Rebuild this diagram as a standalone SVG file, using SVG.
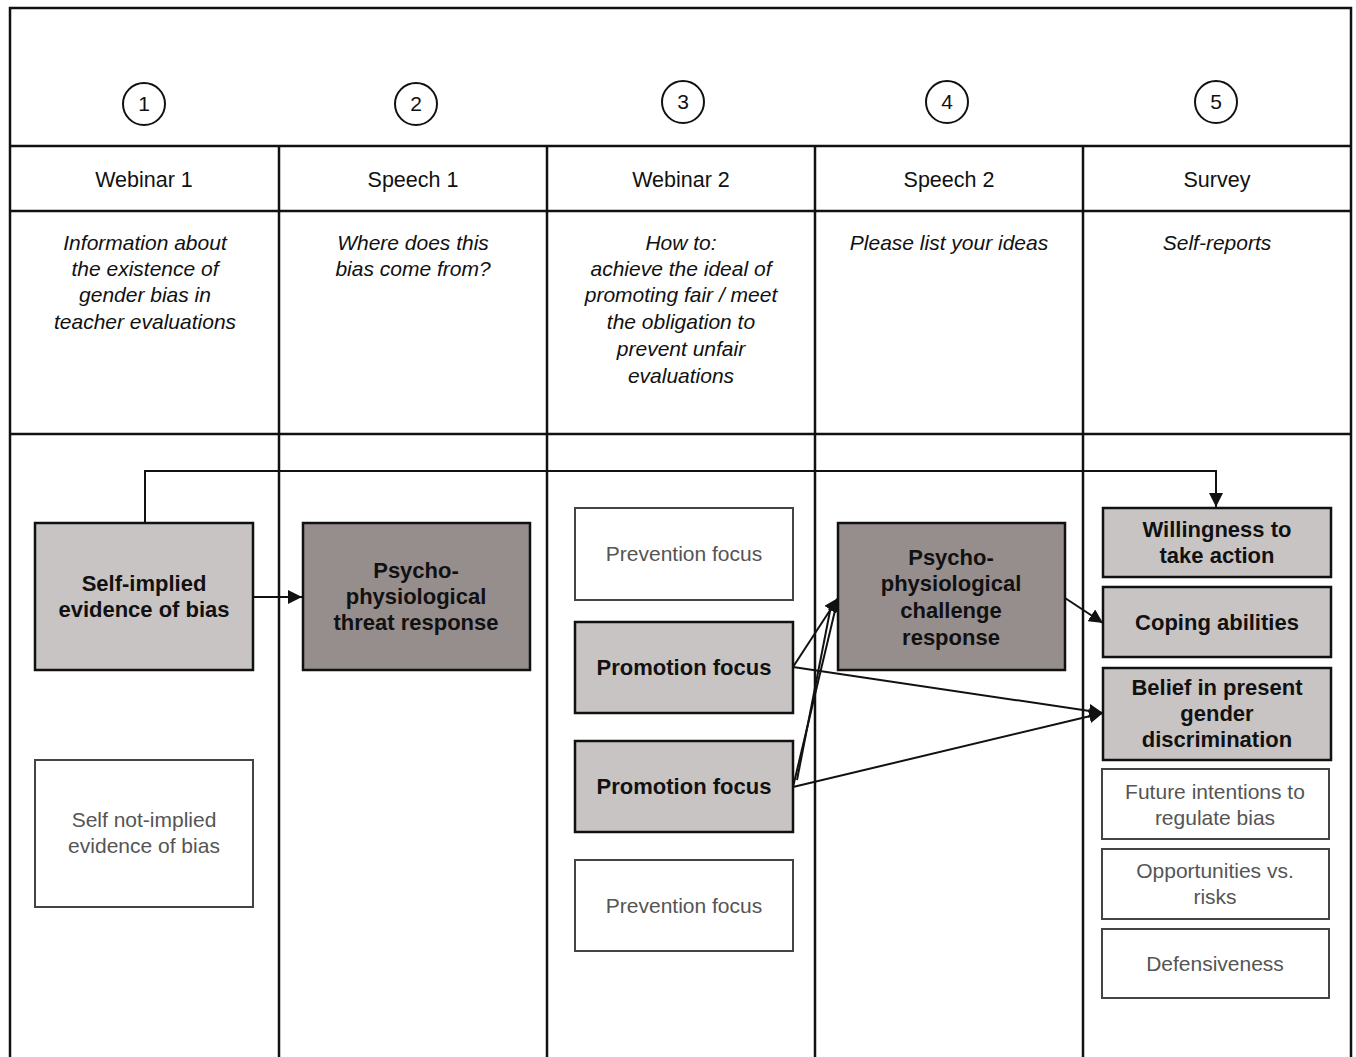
<svg xmlns="http://www.w3.org/2000/svg" width="1356" height="1057" viewBox="0 0 1356 1057">
<style>
.grid{stroke:#111;stroke-width:2.5;fill:none}
.circ{fill:#fff;stroke:#111;stroke-width:2}
.num{font-family:"Liberation Sans",Arial,sans-serif;font-size:21px;fill:#111;text-anchor:middle}
.head{font-family:"Liberation Sans",Arial,sans-serif;font-size:21.5px;fill:#111;text-anchor:middle}
.desc{font-family:"Liberation Sans",Arial,sans-serif;font-size:21px;font-style:italic;fill:#111;text-anchor:middle}
.light{fill:#c9c4c4;stroke:#111;stroke-width:2.5}
.dark{fill:#968d8d;stroke:#111;stroke-width:2.5}
.white{fill:#fff;stroke:#444;stroke-width:2}
.bt{font-family:"Liberation Sans",Arial,sans-serif;font-size:22px;font-weight:bold;fill:#111;text-anchor:middle}
.wt{font-family:"Liberation Sans",Arial,sans-serif;font-size:21px;fill:#555;text-anchor:middle}
.conn{stroke:#111;stroke-width:2;fill:none}
</style>
<defs>
<marker id="ah" viewBox="0 0 10 10" refX="10" refY="5" markerWidth="8" markerHeight="8" markerUnits="userSpaceOnUse" orient="auto">
<path d="M0,0 L10,5 L0,10 z" fill="#111"/>
</marker>
<marker id="ahb" viewBox="0 0 10 10" refX="10" refY="5" markerWidth="14" markerHeight="14" markerUnits="userSpaceOnUse" orient="auto">
<path d="M0,0 L10,5 L0,10 z" fill="#111"/>
</marker>
</defs>
<rect width="1356" height="1057" fill="#fff"/>
<g id="table">
<rect class="grid" x="10" y="8" width="1341" height="1060"/>
<line class="grid" x1="10" y1="146" x2="1351" y2="146"/>
<line class="grid" x1="10" y1="211" x2="1351" y2="211"/>
<line class="grid" x1="10" y1="434" x2="1351" y2="434"/>
<line class="grid" x1="279" y1="146" x2="279" y2="1060"/>
<line class="grid" x1="547" y1="146" x2="547" y2="1060"/>
<line class="grid" x1="815" y1="146" x2="815" y2="1060"/>
<line class="grid" x1="1083" y1="146" x2="1083" y2="1060"/>
</g>
<g id="steps">
<circle class="circ" cx="144" cy="104" r="21"/><text class="num" x="144" y="111">1</text>
<circle class="circ" cx="416" cy="104" r="21"/><text class="num" x="416" y="111">2</text>
<circle class="circ" cx="683" cy="102" r="21"/><text class="num" x="683" y="109">3</text>
<circle class="circ" cx="947" cy="102" r="21"/><text class="num" x="947" y="109">4</text>
<circle class="circ" cx="1216" cy="102" r="21"/><text class="num" x="1216" y="109">5</text>
</g>
<g id="headers">
<text class="head" x="144" y="187">Webinar 1</text>
<text class="head" x="413" y="187">Speech 1</text>
<text class="head" x="681" y="187">Webinar 2</text>
<text class="head" x="949" y="187">Speech 2</text>
<text class="head" x="1217" y="187">Survey</text>
</g>
<g id="descriptions">
<text class="desc" x="145" y="250">Information about</text>
<text class="desc" x="145" y="276">the existence of</text>
<text class="desc" x="145" y="302">gender bias in</text>
<text class="desc" x="145" y="329">teacher evaluations</text>
<text class="desc" x="413" y="250">Where does this</text>
<text class="desc" x="413" y="276">bias come from?</text>
<text class="desc" x="681" y="250">How to:</text>
<text class="desc" x="681" y="276">achieve the ideal of</text>
<text class="desc" x="681" y="302">promoting fair / meet</text>
<text class="desc" x="681" y="329">the obligation to</text>
<text class="desc" x="681" y="356">prevent unfair</text>
<text class="desc" x="681" y="383">evaluations</text>
<text class="desc" x="949" y="250">Please list your ideas</text>
<text class="desc" x="1217" y="250">Self-reports</text>
</g>
<g id="connectors">
<path class="conn" d="M145,523 V471 H1216 V507" marker-end="url(#ahb)"/>
<line class="conn" x1="253" y1="597" x2="302" y2="597" marker-end="url(#ahb)"/>
<line class="conn" x1="793" y1="667" x2="838" y2="598" marker-end="url(#ahb)"/>
<line class="conn" x1="793" y1="787" x2="838" y2="598" marker-end="url(#ahb)"/>
<line class="conn" x1="797" y1="780" x2="831" y2="606"/>
<line class="conn" x1="1065" y1="598" x2="1103" y2="623" marker-end="url(#ahb)"/>
<line class="conn" x1="793" y1="667" x2="1103" y2="713" marker-end="url(#ahb)"/>
<line class="conn" x1="793" y1="787" x2="1103" y2="713" marker-end="url(#ahb)"/>
</g>
<g id="self-implied">
<rect class="light" x="35" y="523" width="218" height="147"/>
<text class="bt" x="144" y="591">Self-implied</text>
<text class="bt" x="144" y="617">evidence of bias</text>
</g>
<g id="self-not-implied">
<rect class="white" x="35" y="760" width="218" height="147"/>
<text class="wt" x="144" y="827">Self not-implied</text>
<text class="wt" x="144" y="853">evidence of bias</text>
</g>
<g id="threat">
<rect class="dark" x="303" y="523" width="227" height="147"/>
<text class="bt" x="416" y="578">Psycho-</text>
<text class="bt" x="416" y="604">physiological</text>
<text class="bt" x="416" y="630">threat response</text>
</g>
<g id="prevention1">
<rect class="white" x="575" y="508" width="218" height="92"/>
<text class="wt" x="684" y="561">Prevention focus</text>
</g>
<g id="promotion1">
<rect class="light" x="575" y="622" width="218" height="91"/>
<text class="bt" x="684" y="675">Promotion focus</text>
</g>
<g id="promotion2">
<rect class="light" x="575" y="741" width="218" height="91"/>
<text class="bt" x="684" y="794">Promotion focus</text>
</g>
<g id="prevention2">
<rect class="white" x="575" y="860" width="218" height="91"/>
<text class="wt" x="684" y="913">Prevention focus</text>
</g>
<g id="challenge">
<rect class="dark" x="838" y="523" width="227" height="147"/>
<text class="bt" x="951" y="565">Psycho-</text>
<text class="bt" x="951" y="591">physiological</text>
<text class="bt" x="951" y="618">challenge</text>
<text class="bt" x="951" y="645">response</text>
</g>
<g id="willingness">
<rect class="light" x="1103" y="508" width="228" height="69"/>
<text class="bt" x="1217" y="537">Willingness to</text>
<text class="bt" x="1217" y="563">take action</text>
</g>
<g id="coping">
<rect class="light" x="1103" y="587" width="228" height="70"/>
<text class="bt" x="1217" y="630">Coping abilities</text>
</g>
<g id="belief">
<rect class="light" x="1103" y="668" width="228" height="92"/>
<text class="bt" x="1217" y="695">Belief in present</text>
<text class="bt" x="1217" y="721">gender</text>
<text class="bt" x="1217" y="747">discrimination</text>
</g>
<g id="future">
<rect class="white" x="1102" y="769" width="227" height="70"/>
<text class="wt" x="1215" y="799">Future intentions to</text>
<text class="wt" x="1215" y="825">regulate bias</text>
</g>
<g id="opportunities">
<rect class="white" x="1102" y="849" width="227" height="70"/>
<text class="wt" x="1215" y="878">Opportunities vs.</text>
<text class="wt" x="1215" y="904">risks</text>
</g>
<g id="defensiveness">
<rect class="white" x="1102" y="929" width="227" height="69"/>
<text class="wt" x="1215" y="971">Defensiveness</text>
</g>
</svg>
